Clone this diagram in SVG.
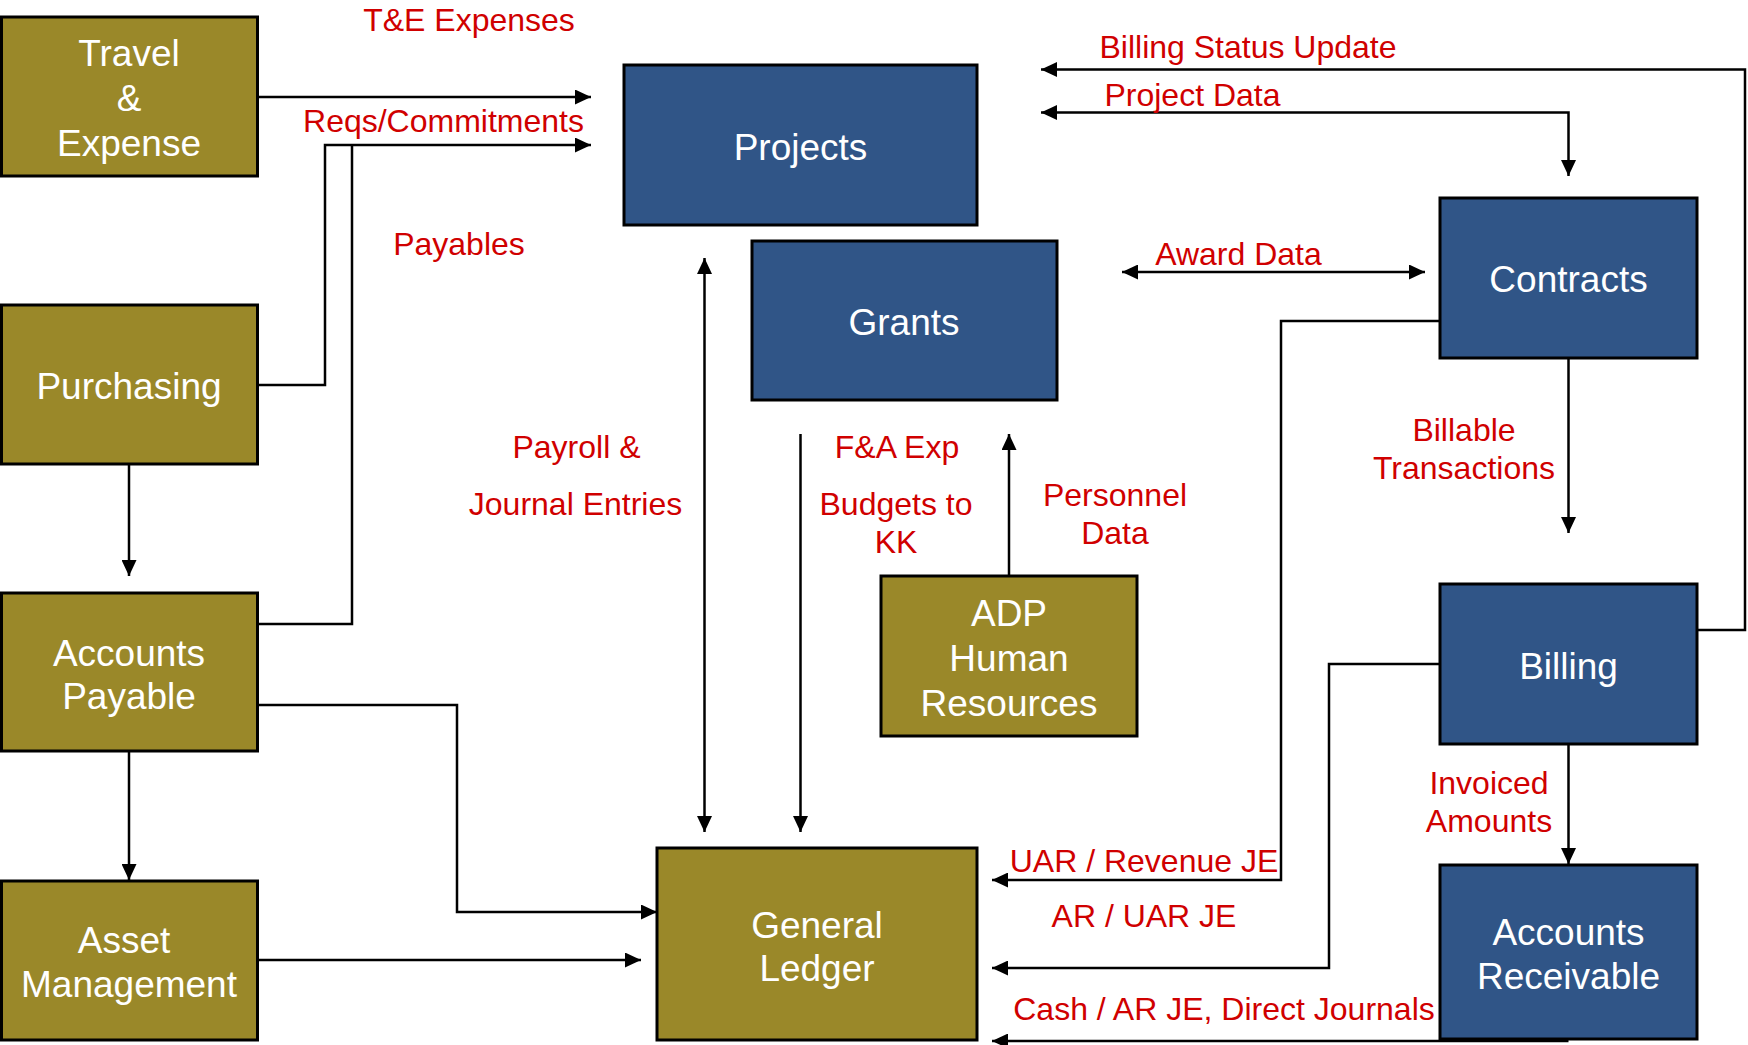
<svg xmlns="http://www.w3.org/2000/svg" width="1748" height="1045" viewBox="0 0 1748 1045">
<style>
.olive{fill:#9A8829;stroke:#000;stroke-width:3}
.blue{fill:#305587;stroke:#000;stroke-width:3}
.nt{font-family:"Liberation Sans",Arial,sans-serif;font-size:37px;fill:#fff;text-anchor:middle}
.lb{font-family:"Liberation Sans",Arial,sans-serif;font-size:32px;fill:#D00000;text-anchor:middle}
.c{fill:none;stroke:#000;stroke-width:2.5}
</style>
<defs>
<marker id="ah" markerUnits="userSpaceOnUse" markerWidth="17" markerHeight="15" refX="16" refY="7.5" orient="auto-start-reverse">
<path d="M0,0 L16,7.5 L0,15 z" fill="#000"/>
</marker>
</defs>
<rect width="1748" height="1045" fill="#fff"/>
<g id="connectors">
<path class="c" d="M257,97 H591" marker-end="url(#ah)"/>
<path class="c" d="M257,385 H325 V145 H591" marker-end="url(#ah)"/>
<path class="c" d="M257,624 H352 V145"/>
<path class="c" d="M129,464 V576" marker-end="url(#ah)"/>
<path class="c" d="M129,751 V880" marker-end="url(#ah)"/>
<path class="c" d="M257,705 H457 V912 H657" marker-end="url(#ah)"/>
<path class="c" d="M257,960 H641" marker-end="url(#ah)"/>
<path class="c" d="M704.5,258 V832" marker-start="url(#ah)" marker-end="url(#ah)"/>
<path class="c" d="M800.5,434 V832" marker-end="url(#ah)"/>
<path class="c" d="M1009,576 V434" marker-end="url(#ah)"/>
<path class="c" d="M1122,272 H1425" marker-start="url(#ah)" marker-end="url(#ah)"/>
<path class="c" d="M1697,630 H1745 V69.5 H1041" marker-end="url(#ah)"/>
<path class="c" d="M1041,112.5 H1568.5 V176" marker-start="url(#ah)" marker-end="url(#ah)"/>
<path class="c" d="M1568.5,358 V533" marker-end="url(#ah)"/>
<path class="c" d="M1440,321 H1281 V880 H992" marker-end="url(#ah)"/>
<path class="c" d="M1440,664 H1329 V968 H992" marker-end="url(#ah)"/>
<path class="c" d="M1568.5,1041 H992" marker-end="url(#ah)"/>
<path class="c" d="M1568.5,744 V864" marker-end="url(#ah)"/>
</g>
<g id="labels">
<text class="lb" x="469" y="31">T&amp;E Expenses</text>
<text class="lb" x="443.5" y="131.5">Reqs/Commitments</text>
<text class="lb" x="459" y="255">Payables</text>
<text class="lb" x="576.5" y="458">Payroll &amp;</text>
<text class="lb" x="575.5" y="515">Journal Entries</text>
<text class="lb" x="897" y="458">F&amp;A Exp</text>
<text class="lb" x="896" y="515">Budgets to</text>
<text class="lb" x="896" y="553">KK</text>
<text class="lb" x="1115" y="506">Personnel</text>
<text class="lb" x="1115" y="544">Data</text>
<text class="lb" x="1248" y="58">Billing Status Update</text>
<text class="lb" x="1192.5" y="106">Project Data</text>
<text class="lb" x="1238.5" y="265">Award Data</text>
<text class="lb" x="1464" y="441">Billable</text>
<text class="lb" x="1464" y="479">Transactions</text>
<text class="lb" x="1489" y="794">Invoiced</text>
<text class="lb" x="1489" y="832">Amounts</text>
<text class="lb" x="1144" y="872">UAR / Revenue JE</text>
<text class="lb" x="1144" y="927">AR / UAR JE</text>
<text class="lb" x="1224" y="1020">Cash / AR JE, Direct Journals</text>
</g>
<g id="travel-expense">
<rect class="olive" x="1.5" y="17" width="256" height="159"/>
<text class="nt" x="129" y="65.5">Travel</text>
<text class="nt" x="129" y="111">&amp;</text>
<text class="nt" x="129" y="156">Expense</text>
</g>
<g id="purchasing">
<rect class="olive" x="1.5" y="305" width="256" height="159"/>
<text class="nt" x="129" y="399">Purchasing</text>
</g>
<g id="accounts-payable">
<rect class="olive" x="1.5" y="593" width="256" height="158"/>
<text class="nt" x="129" y="665.5">Accounts</text>
<text class="nt" x="129" y="709">Payable</text>
</g>
<g id="asset-management">
<rect class="olive" x="1.5" y="881" width="256" height="159"/>
<text class="nt" x="124" y="953">Asset</text>
<text class="nt" x="129" y="996.5">Management</text>
</g>
<g id="projects">
<rect class="blue" x="624" y="65" width="353" height="160"/>
<text class="nt" x="800.5" y="159.5">Projects</text>
</g>
<g id="grants">
<rect class="blue" x="752" y="241" width="305" height="159"/>
<text class="nt" x="904" y="335">Grants</text>
</g>
<g id="contracts">
<rect class="blue" x="1440" y="198" width="257" height="160"/>
<text class="nt" x="1568.5" y="292">Contracts</text>
</g>
<g id="billing">
<rect class="blue" x="1440" y="584" width="257" height="160"/>
<text class="nt" x="1568.5" y="679">Billing</text>
</g>
<g id="accounts-receivable">
<rect class="blue" x="1440" y="865" width="257" height="174"/>
<text class="nt" x="1568.5" y="944.5">Accounts</text>
<text class="nt" x="1568.5" y="989">Receivable</text>
</g>
<g id="adp-human-resources">
<rect class="olive" x="881" y="576" width="256" height="160"/>
<text class="nt" x="1009" y="625.5">ADP</text>
<text class="nt" x="1009" y="671">Human</text>
<text class="nt" x="1009" y="715.5">Resources</text>
</g>
<g id="general-ledger">
<rect class="olive" x="657" y="848" width="320" height="192"/>
<text class="nt" x="817" y="937.5">General</text>
<text class="nt" x="817" y="981">Ledger</text>
</g>
</svg>
